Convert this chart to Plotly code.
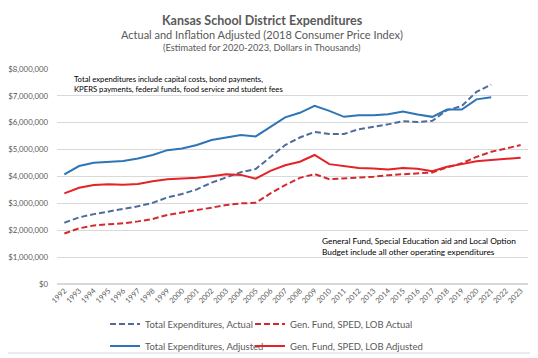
import plotly.graph_objects as go

years = list(range(1992, 2024))

total_actual = [2.28, 2.48, 2.60, 2.69, 2.78, 2.89, 3.02, 3.22, 3.35, 3.52, 3.77, 3.97, 4.16, 4.28,
                4.73, 5.17, 5.45, 5.66, 5.58, 5.58, 5.76, 5.85, 5.94, 6.06, 6.03, 6.07, 6.47, 6.62,
                7.15, 7.42]
total_adjusted = [4.08, 4.39, 4.51, 4.55, 4.58, 4.67, 4.80, 4.98, 5.04, 5.17, 5.36, 5.45, 5.54, 5.49,
                  5.85, 6.20, 6.37, 6.63, 6.44, 6.22, 6.28, 6.28, 6.32, 6.42, 6.31, 6.22, 6.49, 6.49,
                  6.87, 6.95]
gen_actual = [1.88, 2.07, 2.18, 2.22, 2.26, 2.33, 2.42, 2.57, 2.65, 2.75, 2.84, 2.94, 3.00, 3.02,
              3.37, 3.68, 3.95, 4.09, 3.90, 3.93, 3.95, 3.99, 4.05, 4.09, 4.11, 4.15, 4.34, 4.49,
              4.73, 4.92, 5.04, 5.17]
gen_adjusted = [3.37, 3.58, 3.68, 3.71, 3.69, 3.72, 3.82, 3.90, 3.93, 3.95, 4.01, 4.08, 4.06, 3.92,
                4.21, 4.42, 4.55, 4.80, 4.46, 4.39, 4.32, 4.30, 4.26, 4.32, 4.29, 4.20, 4.36, 4.46,
                4.57, 4.61, 4.65, 4.70]

y_ticks = [0, 1000000, 2000000, 3000000, 4000000, 5000000, 6000000, 7000000, 8000000]
y_tick_labels = ["$0", "$1,000,000", "$2,000,000", "$3,000,000", "$4,000,000",
                 "$5,000,000", "$6,000,000", "$7,000,000", "$8,000,000"]

def k(vals):
    return [v * 1_000_000 for v in vals]

BLUE = "#2E75B6"
BLUE_D = "#4F6B9C"
RED = "#E32326"
RED_D = "#D42A2F"
FONT = "Lato"
GRAY = "#595959"
DASH = "6px,3px"

fig = go.Figure()
fig.add_trace(go.Scatter(x=years[:len(total_actual)], y=k(total_actual), mode="lines",
                         name="Total Expenditures, Actual",
                         line=dict(color=BLUE_D, width=2, dash=DASH), legend="legend"))
fig.add_trace(go.Scatter(x=years, y=k(gen_actual), mode="lines",
                         name="Gen. Fund, SPED, LOB Actual",
                         line=dict(color=RED_D, width=2, dash=DASH), legend="legend2"))
fig.add_trace(go.Scatter(x=years[:len(total_adjusted)], y=k(total_adjusted), mode="lines",
                         name="Total Expenditures, Adjusted",
                         line=dict(color=BLUE, width=2), legend="legend3"))
fig.add_trace(go.Scatter(x=years, y=k(gen_adjusted), mode="lines",
                         name="Gen. Fund, SPED, LOB Adjusted",
                         line=dict(color=RED, width=2), legend="legend4"))

OFF = 8  # page body margin offset (screen px -> figure px)
W, H = 538, 358
L, T = 57 - OFF, 69 - OFF
R = W - (528 - OFF)
B = H - (284 - OFF)
pw, ph = W - L - R, H - T - B

def px_x(p):
    return (p - OFF - L) / pw

def px_y(p):
    return (H - B - (p - OFF)) / ph

leg_common = dict(orientation="h", xanchor="left", yanchor="middle",
                  font=dict(family=FONT, size=9.5, color=GRAY),
                  bgcolor="rgba(0,0,0,0)", itemwidth=30)

fig.update_layout(
    width=W, height=H,
    margin=dict(l=L, r=R, t=T, b=B, autoexpand=False),
    paper_bgcolor="white", plot_bgcolor="white",
    font=dict(family=FONT, color=GRAY),
    showlegend=True,
    legend=dict(x=px_x(105), y=px_y(324), **leg_common),
    legend2=dict(x=px_x(250), y=px_y(324), **leg_common),
    legend3=dict(x=px_x(105), y=px_y(346), **leg_common),
    legend4=dict(x=px_x(250), y=px_y(346), **leg_common),
    xaxis=dict(range=[1991.5, 2023.5], tickmode="array", tickvals=years,
               ticktext=[str(y) for y in years], tickangle=-45,
               tickfont=dict(family=FONT, size=7.5, color=GRAY),
               showgrid=False, showline=False, zeroline=False, ticks="",
               automargin=False),
    yaxis=dict(range=[0, 8000000], tickmode="array", tickvals=y_ticks,
               ticktext=y_tick_labels,
               tickfont=dict(family=FONT, size=7.8, color=GRAY),
               showgrid=True, gridcolor="#D9D9D9", gridwidth=1,
               zeroline=True, zerolinecolor="#D9D9D9", showline=False, ticks="",
               ticklabelstandoff=8, automargin=False),
    annotations=[
        dict(text="<b>Kansas School District Expenditures</b>", x=px_x(262), y=px_y(20.5),
             xref="paper", yref="paper", showarrow=False, xanchor="center", yanchor="middle",
             font=dict(family=FONT, size=12.5, color=GRAY)),
        dict(text="Actual and Inflation Adjusted (2018 Consumer Price Index)", x=px_x(262), y=px_y(34.5),
             xref="paper", yref="paper", showarrow=False, xanchor="center", yanchor="middle",
             font=dict(family=FONT, size=11, color=GRAY)),
        dict(text="(Estimated for 2020-2023, Dollars in Thousands)", x=px_x(262), y=px_y(47),
             xref="paper", yref="paper", showarrow=False, xanchor="center", yanchor="middle",
             font=dict(family=FONT, size=9.3, color=GRAY)),
        dict(text="Total expenditures include capital costs, bond payments,<br>KPERS payments, federal funds, food service and student fees",
             x=px_x(72), y=px_y(83.5), xref="paper", yref="paper", showarrow=False,
             xanchor="left", yanchor="middle", align="left",
             font=dict(family=FONT, size=7.7, color="#000000")),
        dict(text="General Fund, Special Education aid and Local Option<br>Budget include all other operating expenditures",
             x=px_x(320), y=px_y(246), xref="paper", yref="paper", showarrow=False,
             xanchor="left", yanchor="middle", align="left",
             font=dict(family=FONT, size=8.3, color="#000000")),
    ],
    shapes=[
        dict(type="line", xref="paper", yref="paper", x0=px_x(0), x1=px_x(W + OFF), y0=px_y(3), y1=px_y(3),
             line=dict(color="#D9D9D9", width=1)),
        dict(type="line", xref="paper", yref="paper", x0=px_x(0), x1=px_x(W + OFF), y0=px_y(353), y1=px_y(353),
             line=dict(color="#D9D9D9", width=1)),
    ],
)

fig.write_html("out.html")
